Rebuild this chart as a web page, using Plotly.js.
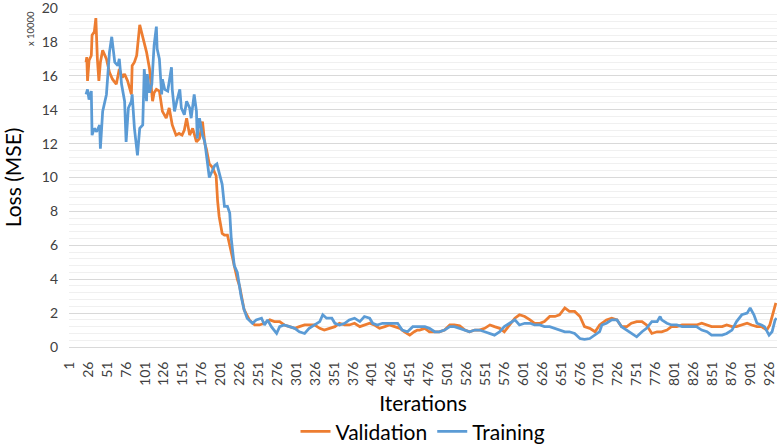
<!DOCTYPE html>
<html>
<head>
<meta charset="utf-8">
<script src="https://cdn.plot.ly/plotly-3.0.1.min.js"></script>
<style>
  html, body { margin: 0; padding: 0; background: #ffffff; }
  #chart { width: 777px; height: 446px; }
</style>
</head>
<body>
<div id="chart"></div>
<script>
// Iteration positions and loss values (in units of 10000)
const validationIter = [23,24,25,27,30,31,34,36,38,40,42,45,50,54,58,63,67,71,74,78,83,84,87,90,94,96,98,101,103,107,110,111,113,116,120,124,129,133,137,142,146,150,153,156,160,164,169,173,177,180,182,186,190,195,197,199,203,206,210,213,215,219,223,226,230,232,239,246,252,259,266,272,279,285,292,299,305,312,318,325,332,338,345,352,358,365,371,378,385,391,398,404,411,418,424,431,438,444,451,457,461,464,471,477,484,490,497,504,510,517,524,530,537,543,550,557,563,570,576,583,590,596,603,610,616,623,629,636,643,649,656,662,669,676,682,689,696,702,705,711,718,725,731,738,744,751,758,764,771,778,784,791,797,804,811,817,824,830,837,844,850,857,864,870,877,883,890,897,903,910,916,923,927,932,935];
const validationLoss = [16.8,17.1,15.7,16.9,17.2,18.4,18.6,19.4,17.0,15.7,16.8,17.5,17.0,16.2,15.8,15.5,16.4,15.9,16.1,15.7,14.9,16.6,16.8,17.2,19.0,18.6,18.4,17.8,17.4,16.4,14.9,14.5,15.0,15.2,15.1,13.9,13.5,14.1,13.1,12.5,12.6,12.5,12.8,13.5,12.5,12.9,12.1,12.3,13.3,12.0,11.7,10.8,10.6,10.1,8.6,7.7,6.7,6.6,6.6,6.0,5.6,4.6,4.0,3.6,2.5,2.2,1.6,1.3,1.3,1.4,1.6,1.5,1.5,1.3,1.2,1.1,1.2,1.3,1.3,1.3,1.1,1.0,1.1,1.2,1.4,1.3,1.3,1.4,1.2,1.3,1.4,1.3,1.1,1.2,1.3,1.2,1.1,0.9,0.7,0.9,1.0,1.0,1.1,0.9,0.9,0.9,1.0,1.3,1.3,1.25,1.0,0.9,1.0,1.0,1.1,1.3,1.2,1.1,0.9,1.3,1.7,1.9,1.8,1.6,1.4,1.4,1.5,1.8,1.8,1.9,2.3,2.1,2.1,1.8,1.2,1.1,0.9,1.3,1.4,1.6,1.7,1.6,1.2,1.2,1.4,1.5,1.5,1.3,0.8,0.9,0.9,1.0,1.2,1.2,1.3,1.3,1.3,1.3,1.4,1.3,1.2,1.2,1.2,1.3,1.2,1.2,1.3,1.4,1.3,1.2,1.2,1.0,1.3,2.2,2.6];

const trainingIter = [23,25,27,30,31,34,37,41,42,45,50,54,57,59,61,65,67,70,74,76,79,83,84,87,91,94,98,100,103,104,107,110,113,116,117,120,123,124,127,131,136,137,140,143,147,149,153,156,160,162,166,169,170,173,177,180,184,186,190,193,196,199,203,206,210,213,215,219,223,228,232,236,243,248,255,259,263,268,275,279,285,292,299,305,312,318,325,332,336,341,348,352,358,365,371,378,385,391,398,402,408,415,422,428,435,441,448,455,461,464,471,477,484,490,497,504,510,517,524,530,537,543,550,557,563,570,576,583,590,596,603,610,616,623,629,636,643,649,656,662,669,676,682,689,696,702,705,711,718,725,731,738,744,751,758,764,771,778,782,784,791,797,804,811,817,824,830,837,844,850,857,864,870,877,883,890,897,901,906,910,916,920,926,930,934,936];
const trainingLoss = [14.9,15.2,14.6,15.1,12.5,12.9,12.7,13.1,11.7,13.9,14.9,17.4,18.3,17.5,16.8,16.6,17.0,15.5,14.5,12.1,14.1,14.5,14.9,12.9,11.3,12.9,13.1,16.4,14.5,16.1,15.0,15.5,17.8,18.9,17.6,17.0,14.9,15.8,15.2,15.1,16.5,15.2,13.9,14.5,15.2,14.1,13.7,14.5,14.1,13.5,14.9,13.9,12.3,13.5,12.5,12.1,10.6,10.0,10.4,10.7,10.8,10.3,9.6,8.3,8.3,7.9,6.4,4.8,4.4,3.0,2.2,1.7,1.4,1.6,1.7,1.3,1.6,1.2,0.8,1.2,1.3,1.2,1.1,0.9,0.8,1.1,1.3,1.5,1.9,1.7,1.7,1.4,1.3,1.4,1.6,1.7,1.5,1.8,1.7,1.4,1.3,1.4,1.4,1.4,1.4,1.0,0.9,1.2,1.2,1.2,1.2,1.1,0.9,0.9,1.0,1.2,1.2,1.1,1.0,0.9,1.0,1.0,0.9,0.8,0.7,0.9,1.2,1.4,1.6,1.3,1.4,1.4,1.3,1.3,1.2,1.2,1.1,1.0,0.9,0.9,0.8,0.5,0.45,0.5,0.7,0.9,1.3,1.4,1.6,1.6,1.2,1.0,0.8,0.6,0.9,1.1,1.5,1.5,1.8,1.6,1.4,1.3,1.3,1.2,1.2,1.2,1.2,1.0,0.9,0.7,0.7,0.7,0.8,1.0,1.5,1.9,2.0,2.3,1.9,1.4,1.3,1.2,0.7,0.9,1.6,1.7];

const xTickValues = [1,26,51,76,101,126,151,176,201,226,251,276,301,326,351,376,401,426,451,476,501,526,551,576,601,626,651,676,701,726,751,776,801,826,851,876,901,926];
const xTickLabels = ['1','26','51','76','101','126','151','176','201','226','251','276','301','326','351','376','401','426','451','476','501','526','551','576','601','626','651','676','701','726','751','776','801','826','851','876','901','926'];
const yTickValues = [0,2,4,6,8,10,12,14,16,18,20];

const FONT = 'Lato, "Open Sans", "DejaVu Sans", sans-serif';

const traces = [
  {
    type: 'scatter', mode: 'lines', name: 'Validation',
    x: validationIter, y: validationLoss,
    line: { color: '#ED7D31', width: 2.75 }
  },
  {
    type: 'scatter', mode: 'lines', name: 'Training',
    x: trainingIter, y: trainingLoss,
    line: { color: '#5B9BD5', width: 2.75 }
  }
];

const layout = {
  width: 777, height: 446,
  margin: { l: 69, r: 0, t: 8, b: 99, autoexpand: false },
  paper_bgcolor: '#ffffff', plot_bgcolor: '#ffffff',
  font: { family: FONT, color: '#404040', size: 14 },
  showlegend: true,
  legend: {
    orientation: 'h', x: 0.5, xanchor: 'center', y: -0.25, yanchor: 'middle',
    font: { family: FONT, size: 21, color: '#000000' },
    itemwidth: 30, tracegroupgap: 0
  },
  xaxis: {
    range: [0.5, 936.5], automargin: false,
    tickmode: 'array', tickvals: xTickValues, ticktext: xTickLabels,
    tickangle: -90, tickfont: { size: 14, color: '#404040' },
    showgrid: false, zeroline: false,
    showline: true, linecolor: '#d9d9d9', linewidth: 1,
    ticks: '', ticklabelstandoff: 8,
    title: { text: 'Iterations', font: { family: FONT, size: 21, color: '#000000' }, standoff: 11 }
  },
  yaxis: {
    range: [0, 20], automargin: false,
    tickmode: 'array', tickvals: yTickValues,
    tickfont: { size: 14, color: '#404040' },
    showgrid: true, gridcolor: '#d9d9d9', gridwidth: 1,
    zeroline: false, showline: false,
    ticks: '', ticklabelstandoff: 10, ticklabeloverflow: 'allow',
    minor: { dtick: 0.4, showgrid: true, gridcolor: '#f0f0f0', gridwidth: 1 },
    title: { text: 'Loss (MSE)', font: { family: FONT, size: 21, color: '#000000' }, standoff: 14 }
  },
  annotations: [
    {
      text: 'x 10000', xref: 'paper', yref: 'paper',
      x: -0.054, y: 0.94, xanchor: 'center', yanchor: 'middle',
      textangle: -90, showarrow: false,
      font: { family: FONT, size: 9.5, color: '#404040' }
    }
  ]
};

Plotly.newPlot('chart', traces, layout, { displayModeBar: false, staticPlot: true });
</script>
</body>
</html>
